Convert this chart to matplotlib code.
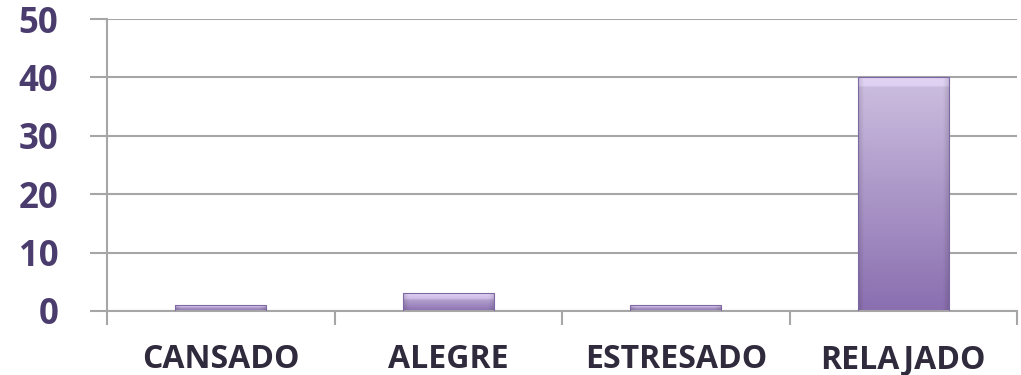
import numpy as np
import matplotlib
matplotlib.use("Agg")
import matplotlib.pyplot as plt
from matplotlib.colors import to_rgb

categories = ["CANSADO", "ALEGRE", "ESTRESADO", "RELAJADO"]
values = [1, 3, 1, 40]
y_ticks = [0, 10, 20, 30, 40, 50]

plt.rcParams["font.family"] = ["Open Sans", "DejaVu Sans"]

fig = plt.figure(figsize=(10.21, 3.75), dpi=100)
ax = fig.add_axes([107 / 1021, 1 - 311 / 375, 910 / 1021, 292 / 375])

x = np.arange(len(categories))
width = 0.4
bars = ax.bar(x, values, width=width, color="none", edgecolor="#7d68a3",
              linewidth=0.8, zorder=3)

top_c = np.array(to_rgb("#cdbfe0"))
bot_c = np.array(to_rgb("#8a6fb0"))
for rect, v in zip(bars, values):
    x0 = rect.get_x()
    w = rect.get_width()
    ny, nx = 100, 60
    t = np.linspace(0, 1, ny)[:, None, None]
    img = top_c * (1 - t) + bot_c * t
    img = np.repeat(img, nx, axis=1)
    # darker sides for a bevelled look
    s = np.linspace(0, 1, nx)
    edge = np.clip(np.minimum(s, 1 - s) / 0.06, 0, 1)[None, :, None]
    img = img * (0.88 + 0.12 * edge)
    # light highlight band along the top
    band = min(0.04 * 40 / max(v, 1), 0.35)
    hl = (np.linspace(0, 1, ny) < band)[:, None, None]
    img = np.where(hl, np.clip(img + 0.08, 0, 1), img)
    im = ax.imshow(img, extent=(x0, x0 + w, 0, v), aspect="auto",
                   origin="upper", zorder=2, interpolation="bilinear")
    im.set_clip_path(rect)

ax.set_xlim(-0.5, len(categories) - 0.5)
ax.set_ylim(0, 50)
ax.set_yticks(y_ticks)
ax.set_yticklabels([str(v) for v in y_ticks])
ax.set_xticks(x)
ax.set_xticklabels(categories)
ax.set_xticks(np.arange(len(categories) + 1) - 0.5, minor=True)

ax.yaxis.grid(True, color="#a6a6a6", linewidth=1.5, zorder=0)
ax.set_axisbelow(True)

for side in ("top", "right"):
    ax.spines[side].set_visible(False)
ax.spines["left"].set_color("#a6a6a6")
ax.spines["left"].set_linewidth(1.5)
ax.spines["bottom"].set_color("#a6a6a6")
ax.spines["bottom"].set_linewidth(1.5)

ax.tick_params(axis="y", which="major", length=12, width=1.5, color="#a6a6a6",
               labelsize=25, labelcolor="#4b3c6e", pad=23)
ax.tick_params(axis="x", which="major", length=0, labelsize=23,
               labelcolor="#2f2a3c", pad=23)
ax.tick_params(axis="x", which="minor", length=10, width=1.5, color="#a6a6a6")
for lbl in ax.get_yticklabels() + ax.get_xticklabels():
    lbl.set_fontweight("bold")

fig.savefig("out.png", dpi=100)
